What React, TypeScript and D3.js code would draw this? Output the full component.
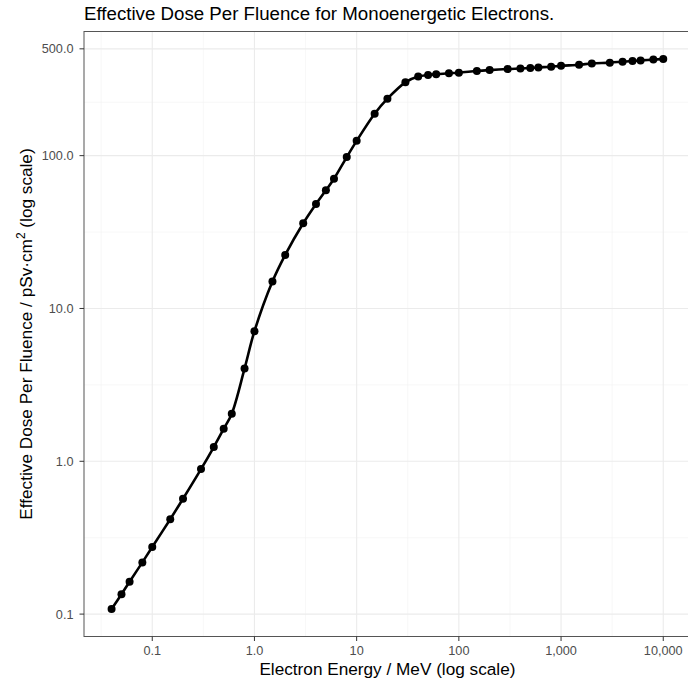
import React from "react";
import * as d3 from "d3";

const energies = [0.04, 0.05, 0.06, 0.08, 0.1, 0.15, 0.2, 0.3, 0.4, 0.5, 0.6, 0.8, 1, 1.5, 2, 3, 4, 5, 6, 8, 10, 15, 20, 30, 40, 50, 60, 80, 100, 150, 200, 300, 400, 500, 600, 800, 1000, 1500, 2000, 3000, 4000, 5000, 6000, 8000, 10000];
const doses = [0.108, 0.135, 0.163, 0.218, 0.275, 0.418, 0.569, 0.889, 1.24, 1.63, 2.05, 4.04, 7.1, 15.0, 22.4, 36.1, 48.2, 59.3, 70.6, 97.9, 125, 188, 236, 302, 329, 337, 341, 346, 349, 358, 363, 369, 372, 375, 378, 382, 387, 393, 401, 406, 412, 416, 420, 425, 429];

const xTicks = [0.1, 1, 10, 100, 1000, 10000];
const xTickLabels = ["0.1", "1.0", "10", "100", "1,000", "10,000"];
const yTicks = [0.1, 1, 10, 100, 500];
const yTickLabels = ["0.1", "1.0", "10.0", "100.0", "500.0"];

const W = 688;
const H = 682;
const left = 84;
const top = 31.5;
const bottom = 636.5;
const font = "'Liberation Sans', Arial, Helvetica, sans-serif";

function expandedLogDomain(vals: number[], mult = 0.05): [number, number] {
  const lo = Math.log10(d3.min(vals) as number);
  const hi = Math.log10(d3.max(vals) as number);
  const e = (hi - lo) * mult;
  return [Math.pow(10, lo - e), Math.pow(10, hi + e)];
}

export default function App() {
  const xDom = expandedLogDomain(energies);
  const yDom = expandedLogDomain(doses);
  const decadeX = 102.2;
  const right = left + Math.log10(xDom[1] / xDom[0]) * decadeX;
  const x = d3.scaleLog().domain(xDom).range([left, right]);
  const y = d3.scaleLog().domain(yDom).range([bottom, top]);

  const mid = (a: number, b: number) => Math.sqrt(a * b);
  const xMinor: number[] = [];
  const xAll = [0.01, ...xTicks, 100000];
  for (let i = 0; i < xAll.length - 1; i++) xMinor.push(mid(xAll[i], xAll[i + 1]));
  const yMinor: number[] = [];
  for (let i = 0; i < yTicks.length - 1; i++) yMinor.push(mid(yTicks[i], yTicks[i + 1]));
  yMinor.push(mid(0.01, 0.1));

  const inX = (v: number) => v > xDom[0] && v < xDom[1];
  const inY = (v: number) => v > yDom[0] && v < yDom[1];

  const pts: [number, number][] = energies.map((e, i) => [x(e), y(doses[i])]);
  const line = d3.line().curve(d3.curveCatmullRom.alpha(0.5))(pts) || "";

  return (
    <svg width={W} height={H} style={{ position: "absolute", left: 0, top: 0, background: "#fff" }} fontFamily={font}>
      <rect x={0} y={0} width={W} height={H} fill="#fff" />
      <text x={left} y={20} fontSize={18.7} fill="#000">
        Effective Dose Per Fluence for Monoenergetic Electrons.
      </text>
      <g>
        {xMinor.filter(inX).map((v, i) => (
          <line key={"xm" + i} x1={x(v)} x2={x(v)} y1={top} y2={bottom} stroke="#F2F2F2" strokeWidth={0.6} />
        ))}
        {yMinor.filter(inY).map((v, i) => (
          <line key={"ym" + i} x1={left} x2={right} y1={y(v)} y2={y(v)} stroke="#F2F2F2" strokeWidth={0.6} />
        ))}
        {xTicks.map((v, i) => (
          <line key={"xg" + i} x1={x(v)} x2={x(v)} y1={top} y2={bottom} stroke="#EBEBEB" strokeWidth={1.1} />
        ))}
        {yTicks.map((v, i) => (
          <line key={"yg" + i} x1={left} x2={right} y1={y(v)} y2={y(v)} stroke="#EBEBEB" strokeWidth={1.1} />
        ))}
      </g>
      <path d={line} fill="none" stroke="#000" strokeWidth={2.6} />
      {pts.map((p, i) => (
        <circle key={"p" + i} cx={p[0]} cy={p[1]} r={4} fill="#000" />
      ))}
      <rect x={left} y={top} width={right - left} height={bottom - top} fill="none" stroke="#555" strokeWidth={1} />
      {xTicks.map((v, i) => (
        <g key={"xt" + i}>
          <line x1={x(v)} x2={x(v)} y1={bottom} y2={bottom + 4.5} stroke="#333" strokeWidth={1} />
          <text x={x(v)} y={bottom + 18.5} fontSize={12.7} fill="#4D4D4D" textAnchor="middle">
            {xTickLabels[i]}
          </text>
        </g>
      ))}
      {yTicks.map((v, i) => (
        <g key={"yt" + i}>
          <line x1={left - 4.5} x2={left} y1={y(v)} y2={y(v)} stroke="#333" strokeWidth={1} />
          <text x={left - 10.5} y={y(v) + 4.6} fontSize={12.7} fill="#4D4D4D" textAnchor="end">
            {yTickLabels[i]}
          </text>
        </g>
      ))}
      <text x={(left + right) / 2} y={674.5} fontSize={17.2} fill="#000" textAnchor="middle">
        Electron Energy / MeV (log scale)
      </text>
      <text transform={`translate(32, ${(top + bottom) / 2}) rotate(-90)`} fontSize={17.2} fill="#000" textAnchor="middle">
        Effective Dose Per Fluence / pSv·cm
        <tspan fontSize={12} dy={-7}>2</tspan>
        <tspan dy={7}> (log scale)</tspan>
      </text>
    </svg>
  );
}
